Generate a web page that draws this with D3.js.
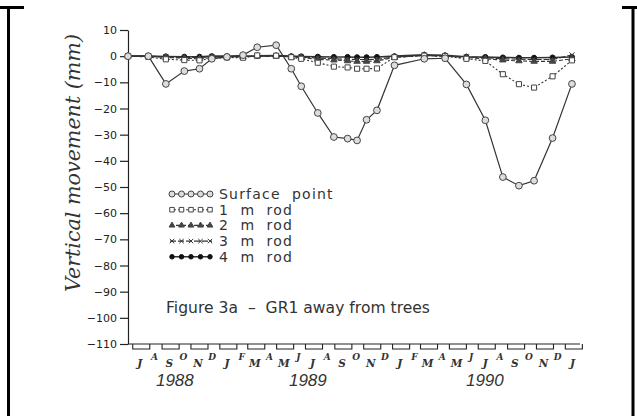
<!DOCTYPE html>
<html>
<head>
<meta charset="utf-8">
<script src="https://cdn.jsdelivr.net/npm/d3@7"></script>
<style>
body { margin: 0; background: #fff; }
svg { display: block; }
</style>
</head>
<body>
<div id="chart"></div>
<script>
// survey dates
var dates = ["1988-06-21", "1988-08-03", "1988-09-09", "1988-10-18", "1988-11-19", "1988-12-15",
    "1989-01-16", "1989-02-19", "1989-03-21", "1989-04-30", "1989-06-01", "1989-06-22",
    "1989-07-27", "1989-08-30", "1989-09-28", "1989-10-18", "1989-11-07", "1989-11-29",
    "1990-01-05", "1990-03-09", "1990-04-22", "1990-06-06", "1990-07-16", "1990-08-22",
    "1990-09-25", "1990-10-27", "1990-12-05", "1991-01-15"];

var surface = [0, 0, -10.6, -5.7, -4.8, -1, -0.3, 0.4, 3.4, 4.2, -4.8, -11.5,
    -21.7, -30.9, -31.5, -32.2, -24.3, -20.7, -3.5, -1, -0.8, -10.8, -24.5, -46.2,
    -49.5, -47.6, -31.3, -10.6];
var rod1 = [0, -0.3, -1.2, -1.5, -1.6, -0.8, -0.5, -0.6, 0.3, 0.2, -0.4, -1.0,
    -2.5, -4.0, -4.3, -4.8, -4.8, -4.7, -0.4, 0.2, 0, -1.0, -1.8, -6.9,
    -10.7, -12.0, -7.7, -1.6];
var rod2 = [0, 0, -0.5, -0.8, -1, -0.5, -0.3, -0.3, 0, 0, -0.3, -0.5,
    -1.2, -1.5, -1.8, -2.0, -2.0, -1.8, -0.5, 0.3, 0, -0.5, -1.0, -1.5,
    -1.8, -2.0, -2.0, -1.0];
var rod3 = [0, 0, -0.3, -0.5, -0.5, -0.3, -0.2, -0.2, 0, 0, -0.2, -0.3,
    -0.7, -1.0, -1.2, -1.3, -1.3, -1.2, -0.3, 0.3, 0, -0.3, -0.6, -1.0,
    -1.2, -1.3, -1.3, 0.5];
var rod4 = [0, 0, -0.1, -0.2, -0.2, 0, 0, 0, 0.1, 0.2, 0, -0.1,
    -0.2, -0.3, -0.3, -0.4, -0.4, -0.3, 0, 0.5, 0.3, -0.2, -0.3, -0.5,
    -0.6, -0.6, -0.5, -0.3];

var seriesNames = ["Surface point", "1 m rod", "2 m rod", "3 m rod", "4 m rod"];
var yTicks = [10, 0, -10, -20, -30, -40, -50, -60, -70, -80, -90, -100, -110];
var monthLabels = ["J", "A", "S", "O", "N", "D",
    "J", "F", "M", "A", "M", "J", "J", "A", "S", "O", "N", "D",
    "J", "F", "M", "A", "M", "J", "J", "A", "S", "O", "N", "D", "J"];
var yearLabels = ["1988", "1989", "1990"];
var yearDates = ["1988-09-28", "1989-07-06", "1990-07-15"];
var caption = "Figure 3a  \u2013  GR1 away from trees";

var W = 637, H = 416;
var parse = d3.timeParse("%Y-%m-%d");

var svg = d3.select("#chart").append("svg").attr("width", W).attr("height", H);

var x = d3.scaleTime()
    .domain([new Date(1988, 5, 21), new Date(1991, 1, 1)])
    .range([128, 580]);
var y = d3.scaleLinear().domain([-110, 10]).range([344, 30]);

// page frame bits
var frame = svg.append("g").attr("stroke", "#000").attr("stroke-width", 3);
frame.append("line").attr("x1", 8.5).attr("y1", 6).attr("x2", 8.5).attr("y2", H);
frame.append("line").attr("x1", 633).attr("y1", 6).attr("x2", 633).attr("y2", H);
frame.append("line").attr("x1", 0).attr("y1", 7.5).attr("x2", 24).attr("y2", 7.5);
frame.append("line").attr("x1", 622).attr("y1", 7.5).attr("x2", W).attr("y2", 7.5);

// y axis
var yAxis = svg.append("g")
    .attr("transform", "translate(128,0)")
    .call(d3.axisLeft(y).tickValues(yTicks).tickSize(8).tickSizeOuter(0).tickPadding(3));
yAxis.selectAll("path, line").attr("stroke", "#222").attr("stroke-width", 1.2);
yAxis.selectAll("text").attr("font-family", "DejaVu Sans").attr("font-size", 11).attr("fill", "#222");

// x axis line with box ticks every two months
svg.append("line").attr("x1", x.range()[0]).attr("x2", x.range()[1])
    .attr("y1", y(-110)).attr("y2", y(-110)).attr("stroke", "#222").attr("stroke-width", 1.2);

var months = monthLabels.map(function (d, i) { return new Date(1988, 6 + i, 1); });
var boxMonths = months.filter(function (d, i) { return i % 2 === 0; });
svg.append("g").selectAll("path").data(boxMonths).enter().append("path")
    .attr("d", function (d) {
        var x0 = x(d), x1 = x(d3.timeDay.offset(d, 36)), y0 = y(-110);
        return "M" + x0 + "," + y0 + "V" + (y0 + 5) + "H" + x1 + "V" + y0;
    })
    .attr("fill", "none").attr("stroke", "#222").attr("stroke-width", 1.1);

svg.append("g").selectAll("text").data(monthLabels).enter().append("text")
    .attr("x", function (d, i) { return x(d3.timeDay.offset(months[i], 15)); })
    .attr("y", function (d, i) { return i % 2 === 0 ? 367 : 360; })
    .attr("text-anchor", "middle")
    .attr("font-family", "DejaVu Serif").attr("font-style", "italic").attr("font-weight", "bold")
    .attr("font-size", function (d, i) { return i % 2 === 0 ? 10.5 : 9; })
    .attr("fill", "#333")
    .text(function (d) { return d; });

svg.append("g").selectAll("text").data(yearLabels).enter().append("text")
    .attr("x", function (d, i) { return x(parse(yearDates[i])); })
    .attr("y", 386)
    .attr("text-anchor", "middle")
    .attr("font-family", "Liberation Sans").attr("font-style", "italic")
    .attr("font-size", 17).attr("fill", "#333")
    .text(function (d) { return d; });

// y title
svg.append("text")
    .attr("transform", "translate(80,163) rotate(-90)")
    .attr("text-anchor", "middle")
    .attr("font-family", "DejaVu Serif").attr("font-style", "italic")
    .attr("font-size", 20).attr("fill", "#333")
    .attr("textLength", 258).attr("lengthAdjust", "spacingAndGlyphs")
    .text("Vertical movement (mm)");

// series
var timesSym = d3.symbolTimes || d3.symbolCross;
var styles = [
    {data: surface, dash: null, width: 1.2, sym: d3.symbolCircle, size: 36, fill: "#ddd", stroke: "#444"},
    {data: rod1, dash: "2,2", width: 1.1, sym: d3.symbolSquare, size: 26, fill: "#fff", stroke: "#444"},
    {data: rod2, dash: "4,2", width: 1.1, sym: d3.symbolTriangle, size: 18, fill: "#444", stroke: "#444"},
    {data: rod3, dash: "6,2", width: 1.1, sym: timesSym, size: 18, fill: "none", stroke: "#333"},
    {data: rod4, dash: null, width: 1.6, sym: d3.symbolCircle, size: 20, fill: "#111", stroke: "#111"}
];

var line = d3.line()
    .x(function (d) { return x(d.date); })
    .y(function (d) { return y(d.value); });

var order = [4, 3, 2, 1, 0];
order.forEach(function (k) {
    var s = styles[k];
    var pts = s.data.map(function (v, i) { return {date: parse(dates[i]), value: v}; });
    svg.append("path").datum(pts)
        .attr("d", line)
        .attr("fill", "none").attr("stroke", "#333")
        .attr("stroke-width", s.width)
        .attr("stroke-dasharray", s.dash);
    svg.append("g").selectAll("path").data(pts).enter().append("path")
        .attr("transform", function (d) { return "translate(" + x(d.date) + "," + y(d.value) + ")"; })
        .attr("d", d3.symbol().type(s.sym).size(s.size))
        .attr("fill", s.fill).attr("stroke", s.stroke).attr("stroke-width", 1);
});

// legend
var legend = svg.append("g");
seriesNames.forEach(function (name, k) {
    var s = styles[k];
    var ly = 194 + k * 15.7;
    legend.append("line").attr("x1", 170).attr("x2", 212).attr("y1", ly).attr("y2", ly)
        .attr("stroke", "#333").attr("stroke-width", s.width).attr("stroke-dasharray", s.dash);
    d3.range(5).forEach(function (j) {
        legend.append("path")
            .attr("transform", "translate(" + (172 + j * 9.5) + "," + ly + ")")
            .attr("d", d3.symbol().type(s.sym).size(s.size * 0.8))
            .attr("fill", s.fill).attr("stroke", s.stroke).attr("stroke-width", 1);
    });
    legend.append("text").attr("x", 219).attr("y", ly + 5)
        .attr("font-family", "DejaVu Sans").attr("font-size", 14).attr("fill", "#333")
        .attr("letter-spacing", 1.2)
        .attr("xml:space", "preserve")
        .text(name.replace(/ /g, "  "));
});

svg.append("text").attr("x", 166).attr("y", 313)
    .attr("font-family", "DejaVu Sans").attr("font-size", 15).attr("fill", "#333")
    .attr("textLength", 264).attr("lengthAdjust", "spacingAndGlyphs")
    .attr("xml:space", "preserve")
    .text(caption);
</script>
</body>
</html>
